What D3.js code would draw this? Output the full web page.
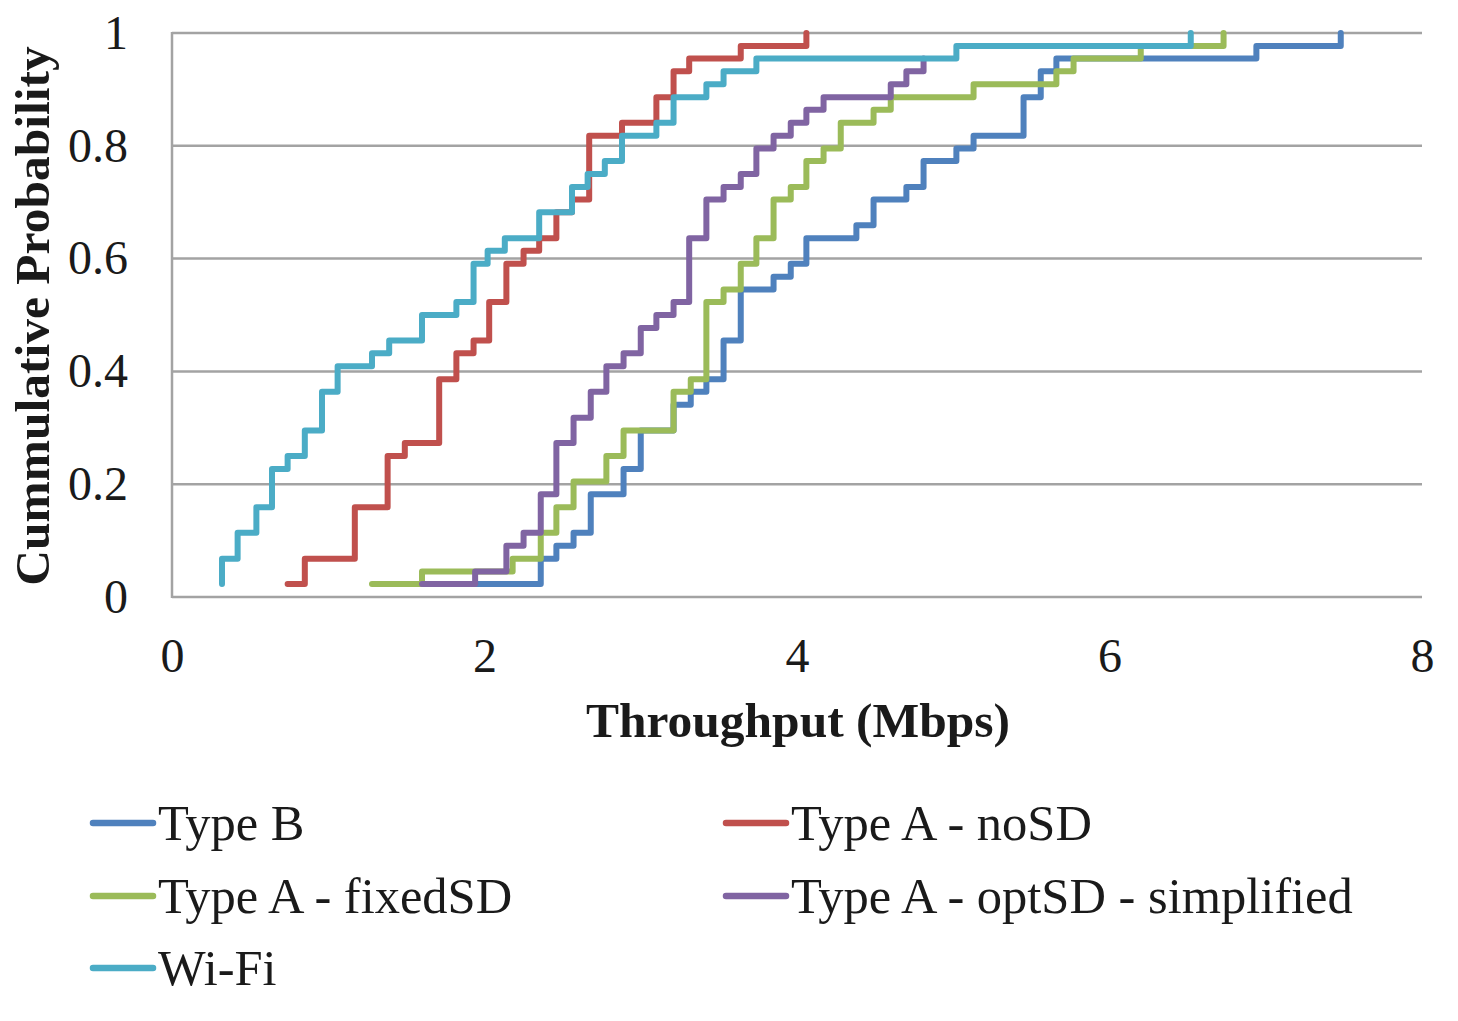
<!DOCTYPE html>
<html>
<head>
<meta charset="utf-8">
<script src="https://cdn.jsdelivr.net/npm/d3@7"></script>
<style>
  html, body { margin: 0; padding: 0; background: #ffffff; }
  svg { display: block; }
  text { font-family: "Liberation Serif", "Times New Roman", serif; fill: #1a1a1a; }
</style>
</head>
<body>
<svg id="chart" width="1458" height="1021"></svg>
<script>
// ---- data ----
const seriesNames = ["Type B", "Type A - noSD", "Type A - fixedSD", "Type A - optSD - simplified", "Wi-Fi"];
const seriesColors = ["#4F81BD", "#C0504D", "#9BBB59", "#8064A2", "#4BACC6"];

const typeBX = [1.92,2.36,2.46,2.57,2.68,2.89,3.00,3.21,3.32,3.42,3.53,3.64,3.85,3.96,4.06,4.38,4.49,4.70,4.81,5.02,5.13,5.45,5.56,5.66,6.94,7.48];
const typeBP = [0.023,0.068,0.091,0.114,0.182,0.227,0.295,0.341,0.364,0.386,0.455,0.545,0.568,0.591,0.636,0.659,0.705,0.727,0.773,0.795,0.818,0.886,0.932,0.955,0.977,1];

const noSDX = [0.74,0.85,1.17,1.38,1.49,1.71,1.82,1.93,2.03,2.14,2.25,2.35,2.46,2.56,2.67,2.88,3.10,3.21,3.31,3.64,4.06];
const noSDP = [0.023,0.068,0.159,0.25,0.273,0.386,0.432,0.455,0.523,0.591,0.614,0.636,0.682,0.705,0.818,0.841,0.886,0.932,0.955,0.977,1];

const fixedSDX = [1.28,1.60,2.18,2.36,2.46,2.57,2.78,2.89,3.21,3.32,3.42,3.53,3.64,3.74,3.85,3.96,4.06,4.17,4.28,4.49,4.60,5.13,5.66,5.77,6.20,6.73];
const fixedSDP = [0.023,0.045,0.068,0.114,0.159,0.205,0.25,0.295,0.364,0.386,0.523,0.545,0.591,0.636,0.705,0.727,0.773,0.795,0.841,0.864,0.886,0.909,0.932,0.955,0.977,1];

const optSDX = [1.60,1.94,2.14,2.25,2.36,2.46,2.57,2.68,2.78,2.89,3.00,3.10,3.21,3.31,3.42,3.53,3.64,3.74,3.85,3.96,4.06,4.17,4.60,4.70,4.81];
const optSDP = [0.023,0.045,0.091,0.114,0.182,0.273,0.318,0.364,0.409,0.432,0.477,0.5,0.523,0.636,0.705,0.727,0.75,0.795,0.818,0.841,0.864,0.886,0.909,0.932,0.955];

const wifiX = [0.32,0.32,0.42,0.54,0.64,0.74,0.85,0.96,1.06,1.28,1.39,1.60,1.82,1.93,2.02,2.13,2.35,2.56,2.66,2.77,2.88,3.10,3.21,3.42,3.53,3.74,5.02,6.52];
const wifiP = [0.023,0.068,0.114,0.159,0.227,0.25,0.295,0.364,0.409,0.432,0.455,0.5,0.523,0.591,0.614,0.636,0.682,0.727,0.75,0.773,0.818,0.841,0.886,0.909,0.932,0.955,0.977,1];

const xTicks = [0, 2, 4, 6, 8];
const yTicks = [0, 0.2, 0.4, 0.6, 0.8, 1];
const xTitle = "Throughput (Mbps)";
const yTitle = "Cummulative Probability";

const seriesX = [typeBX, noSDX, fixedSDX, optSDX, wifiX];
const seriesP = [typeBP, noSDP, fixedSDP, optSDP, wifiP];

// ---- layout ----
const plot = { left: 172, right: 1422, top: 33, bottom: 597 };
const svg = d3.select("#chart");
svg.append("rect").attr("width", 1458).attr("height", 1021).attr("fill", "#ffffff");

const x = d3.scaleLinear().domain([0, 8]).range([plot.left, plot.right]);
const y = d3.scaleLinear().domain([0, 1]).range([plot.bottom, plot.top]);

const gridColor = "#a3a3a3";

// gridlines
svg.append("g").selectAll("line").data(yTicks.filter(d => d > 0)).join("line")
  .attr("x1", plot.left).attr("x2", plot.right)
  .attr("y1", d => y(d)).attr("y2", d => y(d))
  .attr("stroke", gridColor).attr("stroke-width", 2.5);

// axes lines
svg.append("line").attr("x1", plot.left).attr("x2", plot.left)
  .attr("y1", plot.top - 1).attr("y2", plot.bottom + 1)
  .attr("stroke", gridColor).attr("stroke-width", 2.5);
svg.append("line").attr("x1", plot.left).attr("x2", plot.right)
  .attr("y1", plot.bottom).attr("y2", plot.bottom)
  .attr("stroke", gridColor).attr("stroke-width", 2.5);

// y axis labels
const yAxis = d3.axisLeft(y).tickValues(yTicks).tickSize(0).tickPadding(44)
  .tickFormat(d3.format("~g"));
const gy = svg.append("g").attr("transform", `translate(${plot.left},0)`).call(yAxis);
gy.select(".domain").remove();
gy.selectAll("text").style("font-size", "48px").style("font-family", "'Liberation Serif', 'Times New Roman', serif").attr("fill", "#1a1a1a");

// x axis labels
const xAxis = d3.axisBottom(x).tickValues(xTicks).tickSize(0).tickPadding(41)
  .tickFormat(d3.format("~g"));
const gx = svg.append("g").attr("transform", `translate(0,${plot.bottom})`).call(xAxis);
gx.select(".domain").remove();
gx.selectAll("text").style("font-size", "48px").style("font-family", "'Liberation Serif', 'Times New Roman', serif").attr("fill", "#1a1a1a");

// axis titles
svg.append("text").attr("x", 798).attr("y", 737)
  .attr("text-anchor", "middle").style("font-size", "49.5px").style("font-weight", "bold")
  .text(xTitle);
svg.append("text").attr("transform", `translate(49,${(plot.top + plot.bottom) / 2 + 1}) rotate(-90)`)
  .attr("text-anchor", "middle").style("font-size", "49.5px").style("font-weight", "bold")
  .text(yTitle);

// series (step CDFs)
const line = d3.line().x(d => x(d[0])).y(d => y(d[1])).curve(d3.curveStepAfter);
seriesNames.forEach((name, i) => {
  const pts = seriesX[i].map((v, j) => [v, seriesP[i][j]]);
  svg.append("path").datum(pts)
    .attr("d", line)
    .attr("fill", "none")
    .attr("stroke", seriesColors[i])
    .attr("stroke-width", 6)
    .attr("stroke-linejoin", "round")
    .attr("stroke-linecap", "round");
});

// legend
const legendPos = [
  { lx: 90, ly: 823 },
  { lx: 723, ly: 823 },
  { lx: 90, ly: 896 },
  { lx: 723, ly: 896 },
  { lx: 90, ly: 968 }
];
seriesNames.forEach((name, i) => {
  const p = legendPos[i];
  const g = svg.append("g");
  g.append("line").attr("x1", p.lx + 3).attr("x2", p.lx + 63)
    .attr("y1", p.ly).attr("y2", p.ly)
    .attr("stroke", seriesColors[i]).attr("stroke-width", 6.5).attr("stroke-linecap", "round");
  g.append("text").attr("x", p.lx + 68).attr("y", p.ly + 17)
    .style("font-size", "50.5px").text(name);
});
</script>
</body>
</html>
